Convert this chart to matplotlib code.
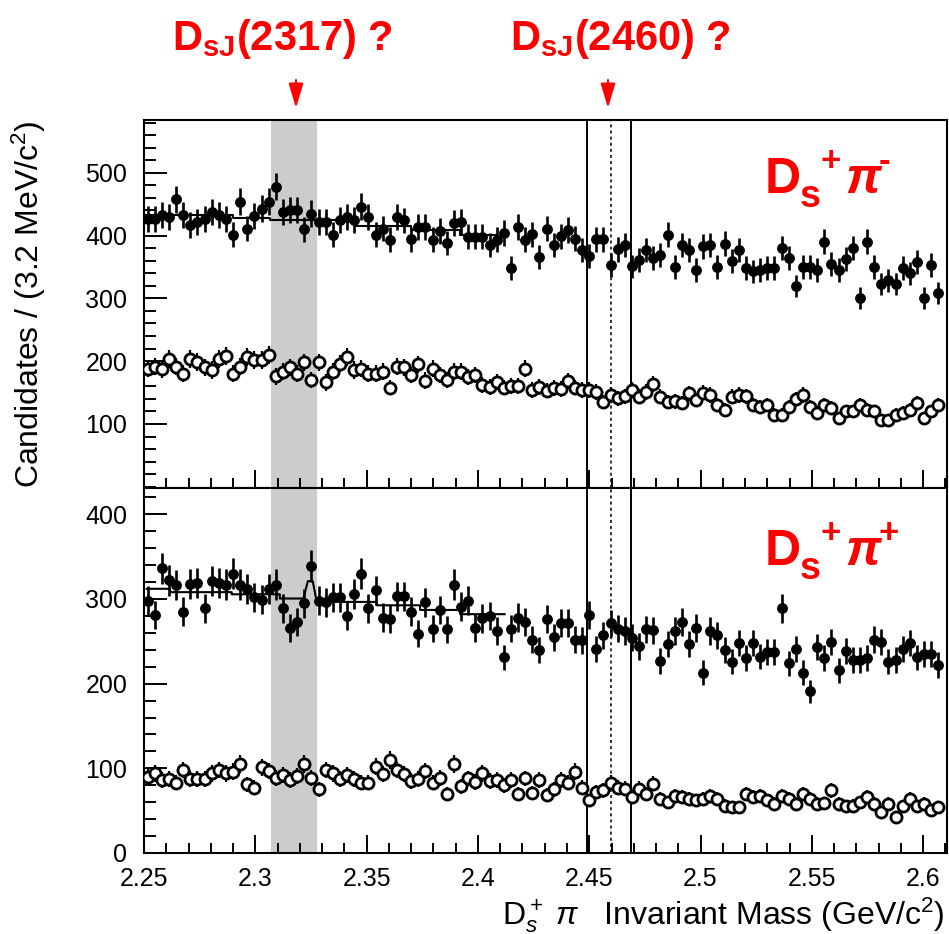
import numpy as np
import matplotlib
matplotlib.use("Agg")
import matplotlib.pyplot as plt
from matplotlib.ticker import MultipleLocator, FixedLocator
from matplotlib.patches import FancyArrowPatch

plt.rcParams['font.family'] = ['Liberation Sans', 'DejaVu Sans']
plt.rcParams['mathtext.fontset'] = 'custom'
plt.rcParams['mathtext.rm'] = 'Liberation Sans'
plt.rcParams['mathtext.it'] = 'Liberation Sans:italic'
plt.rcParams['mathtext.bf'] = 'Liberation Sans:bold'

# ---------------- data ----------------
x_start = 2.25
bin_width = 0.0032
n_bins = 112

upper_signal = [427, 427, 433, 430, 458, 433, 417, 422, 427, 438, 433, 427, 401, 454, 411, 431, 443, 454, 478, 438,
                441, 441, 410, 435, 422, 422, 401, 425, 430, 425, 446, 430, 401, 411, 393, 430, 424, 394,
                414, 414, 393, 407, 388, 420, 422, 398, 398, 398, 385, 393, 404, 348, 414, 393, 402, 366, 411, 385,
                399, 409, 395, 377, 367, 394, 394, 353, 378, 385, 351, 361, 377, 364, 369, 401, 350,
                385, 377, 345, 383, 385, 350, 387, 360, 377, 348, 343, 345, 348, 348, 380, 364, 320, 350, 350, 345,
                390, 355, 345, 362, 380, 300, 390, 350, 323, 329, 323, 348, 340, 358, 300, 353, 308]
upper_sideband = [188, 191, 187, 204, 191, 180, 203, 199, 190, 186, 203, 208, 180, 191, 207, 202, 202, 210, 176, 183,
                  190, 180, 198, 170, 198, 166, 183, 196, 207, 186, 188, 180, 180, 183, 158, 191, 190, 178,
                  195, 169, 188, 178, 170, 183, 183, 175, 178, 162, 159, 167,
                  158, 160, 161, 188, 154, 159, 153, 157, 156, 168, 158, 154, 154, 151, 135, 146, 141, 144, 154, 143,
                  151, 164, 143, 135, 136,
                  133, 149, 138, 150, 146, 130, 122, 143, 146, 144, 130, 127, 130, 114, 114, 127, 139, 146, 127, 117,
                  130, 125, 109, 120, 120, 130, 122, 120, 106, 106, 114, 117, 122, 133, 109, 120, 130]
lower_signal = [298, 281, 336, 322, 316, 285, 318, 319, 289, 321, 319, 317, 330, 317, 312, 302, 299, 312, 317, 289,
                266, 273, 295, 339, 298, 296, 302, 302, 280, 306, 330, 289, 310, 278, 276, 303, 303, 285,
                259, 296, 265, 287, 264, 317, 291, 298, 266, 277, 280, 262, 231, 265, 278, 273, 252, 240, 276, 255,
                272, 272, 252, 251, 281, 241, 257, 271, 265, 262, 254, 244, 264, 263, 227, 247, 262,
                273, 247, 266, 213, 262, 257, 240, 226, 248, 230, 248, 232, 237, 237, 289, 224, 241, 213, 191, 243,
                230, 249, 216, 239, 228, 228, 230, 252, 249, 226, 228, 241, 248, 231, 235, 235, 222]
lower_sideband = [90, 94, 86, 87, 83, 98, 87, 87, 87, 94, 98, 94, 96, 105, 81, 77, 101, 97, 89, 92,
                  86, 91, 105, 89, 75, 98, 94, 87, 92, 87, 83, 83, 102, 93, 110, 98, 93, 85,
                  87, 97, 83, 89, 70, 105, 79, 88, 84, 94, 85, 86, 80, 86, 70, 88, 71, 86, 68, 75,
                  86, 83, 96, 77, 62, 72, 74, 83, 77, 76, 66, 76, 70, 82, 64, 60, 67,
                  66, 64, 62, 64, 67, 64, 56, 54, 54, 70, 66, 67, 62, 58, 67, 64, 58, 70, 64, 58,
                  59, 74, 58, 55, 56, 60, 66, 58, 48, 58, 43, 55, 64, 55, 58, 51, 54]

# fit curves (drawn as in the original: coarse steps)
upper_fit_x = [2.2505, 2.290, 2.290, 2.3066, 2.3066, 2.345, 2.345, 2.370, 2.370, 2.392, 2.392, 2.408]
upper_fit_y = [433, 433, 428, 428, 424, 424, 416, 416, 409, 409, 401, 401]
lower_fit_x = [2.2512, 2.2617, 2.2617, 2.2894, 2.2894, 2.311, 2.311, 2.3216, 2.3236, 2.3258, 2.3276,
               2.3545, 2.3545, 2.374, 2.374, 2.392, 2.392, 2.412]
lower_fit_y = [312, 312, 308, 308, 305.5, 305.5, 300.5, 300.5, 321, 321, 296.5,
               296.5, 292.5, 292.5, 287, 287, 282, 282]

band_2317 = (2.3069, 2.3278)
box_2460 = (2.4492, 2.4688)
line_2460 = 2.4598

x_ticks = [2.25, 2.3, 2.35, 2.4, 2.45, 2.5, 2.55, 2.6]
x_tick_labels = ['2.25', '2.3', '2.35', '2.4', '2.45', '2.5', '2.55', '2.6']
upper_yticks = [100, 200, 300, 400, 500]
lower_yticks = [0, 100, 200, 300, 400]

centers = x_start + bin_width * (np.arange(n_bins) + 0.5)

# ---------------- figure ----------------
W, H = 949, 934
fig = plt.figure(figsize=(W / 100, H / 100), dpi=100)
left = 144 / W
width = (947 - 144) / W
ax1 = fig.add_axes([left, 1 - 488 / H, width, (488 - 120) / H])
ax2 = fig.add_axes([left, 1 - 853 / H, width, (853 - 488) / H])


def draw_panel(ax, sig, side, fx, fy, ylim, yticks):
    sig = np.asarray(sig, float)
    side = np.asarray(side, float)
    ax.axvspan(*band_2317, color='#cccccc', lw=0, zorder=0)
    ax.axvline(box_2460[0], color='black', lw=1.4, zorder=1)
    ax.axvline(box_2460[1], color='black', lw=1.4, zorder=1)
    ax.axvline(line_2460, color='black', lw=1.1, ls=(0, (2, 2)), zorder=1)
    ax.errorbar(centers, side, yerr=np.sqrt(side), xerr=bin_width / 2, fmt='o', ms=8,
                mfc='white', mec='black', mew=2.0, ecolor='black', elinewidth=1.6, capsize=0, zorder=3)
    ax.plot(fx, fy, color='black', lw=1.5, zorder=4)
    ax.errorbar(centers, sig, yerr=np.sqrt(sig), xerr=bin_width / 2, fmt='o', ms=6.8,
                color='black', ecolor='black', elinewidth=1.9, capsize=0, zorder=5)
    ax.set_xlim(2.25, 2.6107)
    ax.set_ylim(*ylim)
    ax.yaxis.set_major_locator(FixedLocator(yticks))
    ax.yaxis.set_minor_locator(MultipleLocator(20))
    ax.xaxis.set_major_locator(FixedLocator(x_ticks))
    ax.xaxis.set_minor_locator(MultipleLocator(0.01))
    ax.tick_params(axis='both', which='both', direction='in', top=False, right=False, width=1.4)
    ax.tick_params(axis='y', which='major', length=16.5, labelsize=18, pad=12)
    ax.tick_params(axis='y', which='minor', length=8.5)
    ax.tick_params(axis='x', which='major', length=13, labelsize=18, pad=10)
    ax.tick_params(axis='x', which='minor', length=7.5)
    for s in ax.spines.values():
        s.set_linewidth(1.5)


draw_panel(ax1, upper_signal, upper_sideband, upper_fit_x, upper_fit_y, (-2, 584), upper_yticks)
draw_panel(ax2, lower_signal, lower_sideband, lower_fit_x, lower_fit_y, (0, 431), lower_yticks)
ax1.tick_params(axis='x', labelbottom=False)
ax2.set_xticklabels(x_tick_labels)

ax1.set_ylabel('Candidates / (3.2 MeV/c$^{2}$)', fontsize=23)
ax1.yaxis.set_label_coords((48 - 144) / 803, 0.5)

fig.text(945 / W, 1 - 915 / H, r'D$_s^+$ $\pi$   Invariant Mass (GeV/c$^{2}$)',
         ha='right', va='center', fontsize=23)

red = '#ff0000'
fig.text(172 / W, 1 - 50 / H, r'$\mathbf{D}_{\mathbf{sJ}}\mathbf{(2317)\ ?}$', color=red,
         fontsize=30, ha='left', va='baseline')
fig.text(510 / W, 1 - 50 / H, r'$\mathbf{D}_{\mathbf{sJ}}\mathbf{(2460)\ ?}$', color=red,
         fontsize=30, ha='left', va='baseline')
for xp in (296, 608):
    arr = FancyArrowPatch((xp / W, 1 - 80 / H), (xp / W, 1 - 108 / H), transform=fig.transFigure,
                          arrowstyle='-|>,head_length=15,head_width=4.5', mutation_scale=1,
                          color=red, lw=1.5, shrinkA=0, shrinkB=0)
    fig.add_artist(arr)


def channel_label(y_base, sup2):
    kw = dict(color=red, ha='left', va='baseline', fontweight='bold')
    fig.text(765 / W, 1 - y_base / H, 'D', fontsize=36, **kw)
    fig.text(800 / W, 1 - (y_base + 14) / H, 's', fontsize=27, **kw)
    fig.text(820 / W, 1 - (y_base - 22) / H, '+', fontsize=25, **kw)
    fig.text(845 / W, 1 - y_base / H, '\u03c0', fontsize=36, style='italic', **kw)
    fig.text(879 / W, 1 - (y_base - 22) / H, sup2, fontsize=25, **kw)


channel_label(193, '-')
channel_label(565, '+')

fig.savefig('out.png', dpi=100)
